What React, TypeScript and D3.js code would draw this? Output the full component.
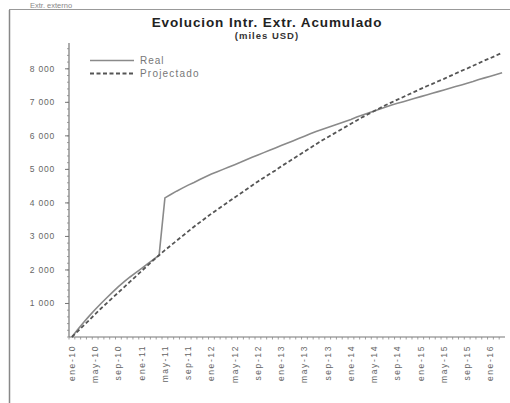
import React from "react";
import * as d3 from "d3";

const monthNames = ["ene", "feb", "mar", "abr", "may", "jun", "jul", "ago", "sep", "oct", "nov", "dic"];
const years = ["10", "11", "12", "13", "14", "15", "16"];
const months: string[] = [];
years.forEach((y) => monthNames.forEach((m) => months.push(`${m}-${y}`)));
const categories = months.slice(0, 75); // ene-10 .. mar-16

const realValues = [
  0, 220, 430, 630, 820, 1000, 1170, 1340, 1500, 1650, 1790, 1920, 2050, 2180, 2310, 2440,
  4150, 4250, 4350, 4440, 4530, 4610, 4700, 4780, 4860, 4930, 5000, 5070, 5140, 5210, 5290,
  5360, 5430, 5500, 5570, 5640, 5710, 5780, 5850, 5920, 5990, 6060, 6130, 6190, 6250, 6310,
  6370, 6430, 6490, 6560, 6620, 6680, 6740, 6800, 6860, 6920, 6970, 7020, 7070, 7120, 7170,
  7220, 7270, 7320, 7370, 7420, 7470, 7520, 7570, 7620, 7680, 7730, 7780, 7830, 7880,
];

const projectedValues = [
  0, 170, 340, 510, 680, 850, 1010, 1170, 1330, 1490, 1650, 1810, 1970, 2130, 2290, 2440,
  2590, 2730, 2870, 3010, 3150, 3290, 3420, 3550, 3680, 3800, 3920, 4040, 4160, 4280, 4400,
  4520, 4640, 4750, 4860, 4970, 5090, 5200, 5310, 5420, 5530, 5640, 5750, 5860, 5960, 6060,
  6160, 6260, 6360, 6460, 6560, 6650, 6740, 6830, 6920, 7000, 7080, 7160, 7240, 7320, 7400,
  7480, 7550, 7630, 7700, 7780, 7860, 7940, 8010, 8090, 8170, 8250, 8320, 8400, 8480,
];

const yTicks = [1000, 2000, 3000, 4000, 5000, 6000, 7000, 8000];
const xLabelEvery = 4;

const title = "Evolucion Intr. Extr. Acumulado";
const subtitle = "(miles USD)";
const legendLabels = ["Real", "Projectado"];
const headerText = "Extr. externo";

export default function App() {
  const W = 510, H = 403;
  const left = 69, right = 505, top = 43, bottom = 337;
  const x = d3.scaleBand<string>().domain(categories).range([left, right]).padding(0);
  const y = d3.scaleLinear().domain([0, 8770]).range([bottom, top]);
  const cx = (c: string) => (x(c) as number) + x.bandwidth() / 2;

  const line = d3
    .line<number>()
    .x((_, i) => cx(categories[i]))
    .y((d) => y(d));

  const fmt = (v: number) => d3.format(",")(v).replace(/,/g, " ");
  const minor = d3.range(0, 8770, 200);
  const font = "'Liberation Sans', Arial, sans-serif";

  return (
    <svg
      width={W}
      height={H}
      style={{ position: "absolute", left: 0, top: 0, background: "#fff" }}
      fontFamily={font}
    >
      <text x={30} y={7.5} fontSize={7.5} fill="#888">{headerText}</text>
      {/* frame */}
      <line x1={9.5} y1={10} x2={9.5} y2={H} stroke="#888" strokeWidth={1.5} />
      <line x1={9} y1={9.5} x2={W} y2={9.5} stroke="#999" strokeWidth={1} />

      <text x={267} y={27} textAnchor="middle" fontSize={13.5} fontWeight="bold" fill="#222" letterSpacing={0.9}>
        {title}
      </text>
      <text x={267} y={39} textAnchor="middle" fontSize={9.5} fontWeight="bold" fill="#333" letterSpacing={1}>
        {subtitle}
      </text>

      {/* y axis */}
      <line x1={left} y1={top} x2={left} y2={bottom} stroke="#777" strokeWidth={1.2} />
      {minor.map((v) => (
        <line key={"m" + v} x1={left - 2} x2={left} y1={y(v)} y2={y(v)} stroke="#888" strokeWidth={0.8} />
      ))}
      {yTicks.map((v) => (
        <g key={v}>
          <line x1={left - 4} x2={left} y1={y(v)} y2={y(v)} stroke="#777" />
          <text x={55} y={y(v)} dy="0.35em" textAnchor="end" fontSize={8.5} fill="#666" letterSpacing={0.8}>
            {fmt(v)}
          </text>
        </g>
      ))}

      {/* x axis */}
      <line x1={left} y1={bottom} x2={right} y2={bottom} stroke="#777" strokeWidth={1.2} />
      {categories.map((c) => (
        <line key={"t" + c} x1={x(c) as number} x2={x(c) as number} y1={bottom} y2={bottom + 2.5} stroke="#888" strokeWidth={0.8} />
      ))}
      {categories.map((c, i) =>
        i % xLabelEvery === 0 ? (
          <text
            key={"l" + c}
            transform={`translate(${cx(c)},${345}) rotate(-90)`}
            dy="0.35em"
            textAnchor="end"
            fontSize={8.5}
            fill="#666"
            letterSpacing={1.6}
          >
            {c}
          </text>
        ) : null
      )}

      {/* series */}
      <path d={line(realValues) || ""} fill="none" stroke="#8a8a8a" strokeWidth={1.6} />
      <path
        d={line(projectedValues) || ""}
        fill="none"
        stroke="#555"
        strokeWidth={1.8}
        strokeDasharray="4,2.5"
      />

      {/* legend */}
      <line x1={90} x2={134} y1={60.5} y2={60.5} stroke="#8a8a8a" strokeWidth={1.6} />
      <text x={140} y={60.5} dy="0.35em" fontSize={10} fill="#777" letterSpacing={1}>{legendLabels[0]}</text>
      <line x1={90} x2={134} y1={73.5} y2={73.5} stroke="#555" strokeWidth={1.8} strokeDasharray="4,2.5" />
      <text x={140} y={73.5} dy="0.35em" fontSize={10} fill="#777" letterSpacing={1.2}>{legendLabels[1]}</text>
    </svg>
  );
}
